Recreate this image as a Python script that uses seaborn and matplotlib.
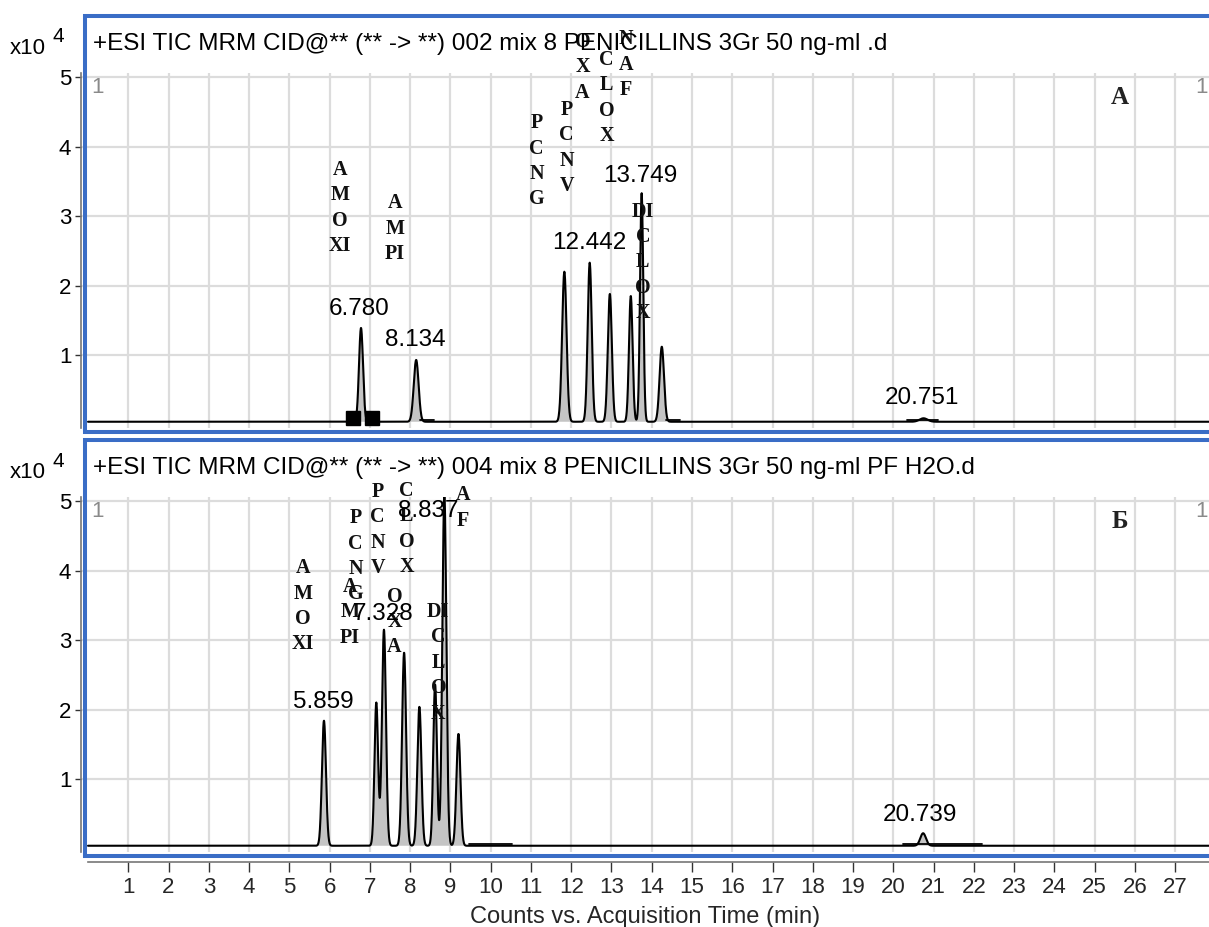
import numpy as np
import pandas as pd
import matplotlib
matplotlib.use("Agg")
import matplotlib.pyplot as plt
from matplotlib.lines import Line2D
import seaborn as sns

# peak tables (time in min, apex in x10^4 counts)
top_rt = [6.78, 8.15, 11.83, 12.46, 12.96, 13.48, 13.75, 14.25, 20.75]
top_apex = [1.39, 0.93, 2.20, 2.33, 1.88, 1.85, 3.33, 1.12, 0.09]
top_sigma = [0.05, 0.06, 0.055, 0.05, 0.05, 0.045, 0.04, 0.055, 0.10]

bot_rt = [5.86, 7.16, 7.35, 7.85, 8.23, 8.62, 8.85, 9.20, 20.74]
bot_apex = [1.84, 2.10, 3.15, 2.82, 2.04, 2.36, 5.10, 1.65, 0.22]
bot_sigma = [0.05, 0.045, 0.05, 0.05, 0.05, 0.045, 0.05, 0.05, 0.07]

baseline = 0.04

# flat integration segments (start, end)
top_segments = [(8.25, 8.60), (14.35, 14.70), (20.33, 21.10)]
bot_segments = [(9.45, 10.53), (20.24, 22.20)]

# compound names (stacked letters), x = time, y = top of first letter
top_names = ["A\nM\nO\nXI", "A\nM\nPI", "P\nC\nN\nG", "P\nC\nN\nV", "O\nX\nA",
             "C\nL\nO\nX", "N\nA\nF", "DI\nC\nL\nO\nX"]
top_name_x = [6.26, 7.62, 11.14, 11.89, 12.28, 12.88, 13.36, 13.78]
top_name_y = [3.81, 3.33, 4.48, 4.67, 5.65, 5.39, 5.69, 3.21]

bot_names = ["A\nM\nO\nXI", "A\nM\nPI", "P\nC\nN\nG", "P\nC\nN\nV", "C\nL\nO\nX",
             "O\nX\nA", "A\nF", "DI\nC\nL\nO\nX"]
bot_name_x = [5.34, 6.51, 6.65, 7.19, 7.91, 7.61, 9.32, 8.70]
bot_name_y = [4.18, 3.91, 4.90, 5.28, 5.29, 3.77, 5.23, 3.55]

# retention time labels
top_rt_labels = ["6.780", "8.134", "12.442", "13.749", "20.751"]
top_rt_x = [6.74, 8.12, 12.45, 13.72, 20.71]
top_rt_y = [1.66, 1.21, 2.61, 3.58, 0.38]

bot_rt_labels = ["5.859", "7.328", "8.837", "20.739"]
bot_rt_x = [5.84, 7.32, 8.45, 20.66]
bot_rt_y = [2.11, 3.38, 4.86, 0.48]

# integration markers in top trace
marker_t = [6.58, 7.05]
marker_v = [0.09, 0.09]

titles = ["+ESI TIC MRM CID@** (** -> **) 002 mix 8 PENICILLINS 3Gr 50 ng-ml .d",
          "+ESI TIC MRM CID@** (** -> **) 004 mix 8 PENICILLINS 3Gr 50 ng-ml PF H2O.d"]
panel_letters = ["А", "Б"]
x_ticks = list(range(1, 28))
y_ticks = [1, 2, 3, 4, 5]

sns.set_theme(style="white")
plt.rcParams['font.family'] = ['Liberation Sans', 'DejaVu Sans']

W, H = 1209, 927
fig = plt.figure(figsize=(W / 100, H / 100), dpi=100)

def box(x0, y0, x1, y1):
    return [x0 / W, 1 - y1 / H, (x1 - x0) / W, (y1 - y0) / H]

ax_top = fig.add_axes(box(81, 73, 1209, 428))
ax_bot = fig.add_axes(box(81, 497, 1209, 852))

t = np.linspace(0, 27.84, 6000)

def trace(rts, apexes, sigmas):
    y = np.full_like(t, baseline)
    for rt, a, s in zip(rts, apexes, sigmas):
        y += (a - baseline) * np.exp(-0.5 * ((t - rt) / s) ** 2)
    return y

blue = '#3a6dc6'
serif = ['Liberation Serif', 'DejaVu Serif']

panels = [
    (ax_top, top_rt, top_apex, top_sigma, top_segments, top_names, top_name_x, top_name_y,
     top_rt_labels, top_rt_x, top_rt_y),
    (ax_bot, bot_rt, bot_apex, bot_sigma, bot_segments, bot_names, bot_name_x, bot_name_y,
     bot_rt_labels, bot_rt_x, bot_rt_y),
]

for i, (ax, rts, aps, sg, segs, names, nx, ny, lbls, lx, ly) in enumerate(panels):
    y = trace(rts, aps, sg)
    df = pd.DataFrame({"t": t, "signal": y})
    ax.fill_between(t, baseline, y, where=y > baseline + 0.01, color='#c4c4c4', lw=0, zorder=2)
    sns.lineplot(data=df, x="t", y="signal", ax=ax, color='black', lw=1.5,
                 estimator=None, zorder=3)
    for s0, s1 in segs:
        ax.plot([s0, s1], [baseline + 0.02, baseline + 0.02], color='black', lw=1.3, zorder=3)

    ax.set_xlim(-0.174, 27.84)
    ax.set_ylim(-0.05, 5.06)
    ax.set_xticks(x_ticks)
    ax.set_yticks(y_ticks)
    ax.set_yticklabels([str(v) for v in y_ticks])
    ax.grid(True, color='#dcdcdc', lw=1.6)
    ax.set_axisbelow(True)
    ax.set_xlabel("")
    ax.set_ylabel("")
    for side in ['top', 'right']:
        ax.spines[side].set_visible(False)
    ax.spines['left'].set_color('#777777')
    ax.spines['left'].set_linewidth(1.2)
    ax.tick_params(axis='y', left=True, length=4, width=1, color='#333333',
                   pad=3, labelsize=16, labelcolor='black')

    for name, xx, yy in zip(names, nx, ny):
        ax.text(xx, yy, name, ha='center', va='top', family=serif, fontweight='bold',
                fontsize=14.5, linespacing=1.36, color='#111111', zorder=5, clip_on=False)
    for lab, xx, yy in zip(lbls, lx, ly):
        ax.text(xx, yy, lab, ha='center', va='center', fontsize=17.5, color='black', zorder=5)

    ax.text(0.015, 0.96, "1", transform=ax.transAxes, ha='center', va='center',
            fontsize=16, color='#8a8a8a')
    ax.text(0.9985, 0.96, "1", transform=ax.transAxes, ha='right', va='center',
            fontsize=16, color='#8a8a8a')
    ax.text(0.921, 0.93, panel_letters[i], transform=ax.transAxes, ha='center', va='center',
            family=serif, fontweight='bold', fontsize=18, color='#222222')

ax_top.spines['bottom'].set_visible(False)
ax_top.tick_params(axis='x', bottom=False, labelbottom=False)
ax_top.plot(marker_t, marker_v, 's', color='black', ms=9.5, zorder=6)

ax_bot.spines['bottom'].set_position(('outward', 7))
ax_bot.spines['bottom'].set_bounds(0, 27.84)
ax_bot.spines['bottom'].set_color('#777777')
ax_bot.spines['bottom'].set_linewidth(1.2)
ax_bot.tick_params(axis='x', bottom=True, length=7, width=1, color='#333333',
                   pad=4, labelsize=16)
ax_bot.set_xlabel("Counts vs. Acquisition Time (min)", fontsize=17, labelpad=6)

# blue frames around the two traces
def fline(xs, ys):
    fig.add_artist(Line2D([x / W for x in xs], [1 - v / H for v in ys],
                          color=blue, lw=2.9, solid_capstyle='butt'))

for top_y, bot_y in [(16, 432), (440, 856)]:
    fline([83, 1209], [top_y, top_y])
    fline([83, 1209], [bot_y, bot_y])
    fline([85, 85], [top_y - 2, bot_y + 2])

# titles and multipliers
for title, yc in zip(titles, [44, 468]):
    fig.text(93 / W, 1 - yc / H, title, ha='left', va='center', fontsize=17.5, color='black')
    fig.text(10 / W, 1 - (yc + 4) / H, "x10", ha='left', va='center', fontsize=16, color='black')
    fig.text(52 / W, 1 - (yc - 7) / H, "4", ha='left', va='center', fontsize=15, color='black')

fig.savefig("out.png", dpi=100)
